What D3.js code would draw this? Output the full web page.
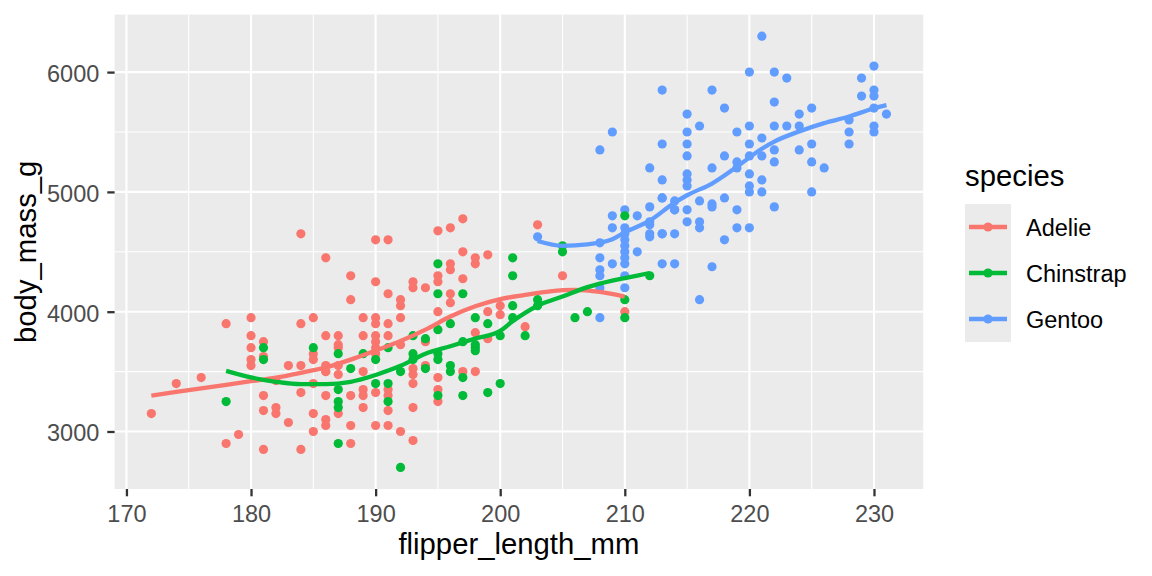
<!DOCTYPE html>
<html>
  <head>
    <meta charset="utf-8">
    <title>Penguins</title>
    <script src="https://d3js.org/d3.v7.min.js"></script>
    <style>
    body { margin: 0; background: #fff; }
    text { font-family: "Liberation Sans", Arial, sans-serif; }
    .grid-major { stroke: #fff; stroke-width: 2.1px; }
    .grid-minor { stroke: #fff; stroke-width: 1.1px; }
    </style>
  </head>
  <body>
    <script>
      // ====================================
      // data: [flipper_length_mm, body_mass_g]
      // ====================================
      const adelie = [
        [184,4650],[186,4450],[178,3900],[180,3950],[184,3900],[185,3950],[180,3800],[181,3750],
        [180,3700],[180,3600],[180,3550],[181,3625],[185,3650],[185,3600],[186,3800],[187,3800],
        [187,3700],[183,3550],[184,3550],[186,3550],[187,3550],[186,3500],[176,3450],[174,3400],
        [172,3150],[181,3300],[181,3175],[182,3200],[182,3150],[183,3075],[184,3325],[185,3400],
        [185,3150],[185,3000],[186,3300],[186,3100],[186,3050],[187,3150],[179,2975],[178,2900],
        [181,2850],[184,2850],[182,3425],
        [190,4600],[191,4600],[195,4675],[196,4700],[197,4775],[197,4500],[198,4450],[198,4400],
        [199,4475],[196,4400],[196,4350],[195,4300],[195,4250],[197,4275],[193,4250],[193,4200],
        [194,4200],[188,4300],[190,4250],[188,4100],[191,4150],[192,4100],[192,4050],[196,4150],
        [196,4075],[195,4000],[192,3950],[189,3950],[190,3950],[190,3900],[191,3900],[189,3800],
        [190,3800],[191,3800],[190,3750],[200,4050],[199,4000],[198,3825],[199,3775],
        [187,3725],[190,3700],[190,3650],[192,3725],[197,3500],[198,3500],[186,3500],[187,3475],
        [189,3500],[193,3525],[193,3475],[193,3400],[194,3550],[195,3450],[188,3300],[189,3350],
        [189,3300],[189,3200],[190,3325],[191,3350],[191,3300],[191,3175],[193,3200],[195,3350],
        [195,3250],[188,3050],[190,3050],[191,3050],[192,3000],[193,2925],[188,2900],[194,3750],
        [203,4725],[205,4300],[210,4000],[202,3875],[200,3975]
      ];

      const gentoo = [
        [203,4625],[210,4850],[209,4800],[209,4700],[210,4700],[210,4650],[211,4800],[212,4875],
        [212,4725],[212,4650],[213,4950],[213,4650],[214,4850],[214,4650],[208,4575],[208,4450],
        [208,4350],[208,4300],[209,4400],[210,4500],[210,4450],[210,4400],[211,4500],[210,4300],
        [210,4200],[213,4400],[214,4400],[208,4200],[208,3950],
        [213,5850],[217,5850],[218,5700],[215,5650],[216,5550],[209,5500],[215,5500],[219,5500],
        [208,5350],[213,5400],[215,5400],[215,5300],[218,5300],[212,5200],[217,5200],[219,5250],
        [219,5200],
        [221,6300],[220,6000],[222,6000],[223,5950],[230,6050],[229,5950],[229,5800],[230,5850],
        [230,5800],[222,5750],[225,5700],[224,5650],[230,5700],[231,5650],[228,5600],[228,5500],
        [228,5400],[230,5550],[230,5500],[220,5550],[222,5550],[223,5550],[224,5550],[221,5450],
        [220,5400],[224,5350],[225,5400],[222,5350],[220,5300],[221,5300],[222,5250],[225,5250],
        [226,5200],
        [213,5100],[215,5150],[215,5100],[215,5050],[220,5150],[221,5100],[220,5050],[220,5000],
        [221,5000],[213,4950],[214,4925],[214,4850],[215,4850],[215,4750],[216,4925],[216,4750],
        [216,4700],[217,4900],[217,4875],[218,4950],[219,4850],[222,4875],[212,4750],[212,4625],
        [213,4650],[219,4700],[220,4700],[218,4600],[210,4600],[210,4550],[217,4375],[216,4100],
        [225,5000]
      ];

      const chinstrap = [
        [181,3700],[181,3600],[185,3700],[178,3250],[187,3650],[187,3350],[187,3250],[187,3200],
        [187,2900],
        [201,4450],[201,4300],[195,4400],[195,4150],[197,4150],[193,3800],[194,3775],[195,3850],
        [196,3900],[198,3950],[199,3900],[200,3800],[201,4050],[197,3750],[198,3700],
        [189,3650],[191,3700],[190,3600],[193,3650],[193,3600],[195,3650],[195,3600],[196,3550],
        [196,3500],[198,3725],[198,3675],[197,3450],[188,3525],[192,3500],[190,3400],[191,3400],
        [194,3525],[195,3300],[197,3300],[199,3325],[200,3400],[192,2700],[191,3250],
        [205,4550],[205,4500],[210,4800],[212,4300],[210,4100],[210,3950],[207,4000],[206,3950],
        [203,4100],[203,4050],[201,3950],[202,3800]
      ];

      // smoothed trend lines
      const adelieSmooth = [
        [172,3300],[174,3330],[176,3360],[178,3390],[180,3420],[182,3450],[184,3490],[186,3535],
        [188,3600],[190,3676],[192,3755],[194,3850],[196,3960],[198,4045],[200,4105],[202,4140],
        [204,4170],[206,4182],[208,4165],[210,4126]
      ];
      const chinstrapSmooth = [
        [178,3506],[180,3451],[182,3415],[184,3395],[186,3395],[188,3415],[190,3472],[192,3548],
        [194,3650],[196,3712],[198,3776],[200,3840],[201,3920],[202,3990],[203,4050],[205,4126],
        [207,4205],[209,4260],[210,4281],[212,4323]
      ];
      const gentooSmooth = [
        [203,4590],[205,4550],[207,4562],[209,4605],[210,4662],[212,4760],[214,4910],[215,4972],
        [217,5070],[219,5210],[221,5360],[222,5420],[224,5505],[226,5574],[228,5629],[230,5698],
        [231,5725]
      ];

      const xTicks = [170, 180, 190, 200, 210, 220, 230];
      const xMinor = [175, 185, 195, 205, 215, 225];
      const yTicks = [3000, 4000, 5000, 6000];
      const yMinor = [3500, 4500, 5500];
      const speciesNames = ["Adelie", "Chinstrap", "Gentoo"];
      const colors = ["#F8766D", "#00BA38", "#619CFF"];

      // ====================================
      // layout
      // ====================================
      const width = 1152;
      const height = 576;
      const panel = { left: 114.6, right: 923.2, top: 14.6, bottom: 489 };
      const tickFont = 23.5;   // 8.8pt at this resolution
      const titleFont = 29.3;  // 11pt

      const svg = d3.select("body")
        .append("svg")
          .attr("width", width)
          .attr("height", height);

      const xScale = d3.scaleLinear()
          .domain([169.05, 233.95])
          .range([panel.left, panel.right]);

      const yScale = d3.scaleLinear()
          .domain([2520, 6480])
          .range([panel.bottom, panel.top]);

      // panel background
      svg.append("rect")
          .attr("x", panel.left)
          .attr("y", panel.top)
          .attr("width", panel.right - panel.left)
          .attr("height", panel.bottom - panel.top)
          .attr("fill", "#EBEBEB");

      // grid lines, minor first
      const grid = svg.append("g");
      grid.selectAll("line.vx-minor").data(xMinor).enter().append("line")
          .attr("class", "grid-minor")
          .attr("x1", d => xScale(d)).attr("x2", d => xScale(d))
          .attr("y1", panel.top).attr("y2", panel.bottom);
      grid.selectAll("line.hy-minor").data(yMinor).enter().append("line")
          .attr("class", "grid-minor")
          .attr("x1", panel.left).attr("x2", panel.right)
          .attr("y1", d => yScale(d)).attr("y2", d => yScale(d));
      grid.selectAll("line.vx-major").data(xTicks).enter().append("line")
          .attr("class", "grid-major")
          .attr("x1", d => xScale(d)).attr("x2", d => xScale(d))
          .attr("y1", panel.top).attr("y2", panel.bottom);
      grid.selectAll("line.hy-major").data(yTicks).enter().append("line")
          .attr("class", "grid-major")
          .attr("x1", panel.left).attr("x2", panel.right)
          .attr("y1", d => yScale(d)).attr("y2", d => yScale(d));

      // axes: d3 axes, restyled to look like ggplot
      const xAxis = d3.axisBottom(xScale)
          .tickValues(xTicks)
          .tickSize(7.3)
          .tickPadding(9);
      const gx = svg.append("g")
          .attr("transform", "translate(0," + panel.bottom + ")")
          .call(xAxis);

      const yAxis = d3.axisLeft(yScale)
          .tickValues(yTicks)
          .tickSize(7.3)
          .tickPadding(8)
          .tickFormat(d3.format("d"));
      const gy = svg.append("g")
          .attr("transform", "translate(" + panel.left + ",0)")
          .call(yAxis);

      [gx, gy].forEach(g => {
        g.select(".domain").remove();
        g.selectAll(".tick line").attr("stroke", "#333333").attr("stroke-width", 2.3);
        g.selectAll(".tick text")
          .style("font-family", "'Liberation Sans', Arial, sans-serif")
          .style("font-size", tickFont + "px")
          .attr("fill", "#4D4D4D");
      });
      gx.selectAll(".tick text").attr("dy", "0.71em");
      gy.selectAll(".tick text").attr("dy", "0.4em");

      // points: data order is Adelie, Gentoo, Chinstrap
      const pointGroups = [
        { data: adelie, color: colors[0] },
        { data: gentoo, color: colors[2] },
        { data: chinstrap, color: colors[1] }
      ];
      const pts = svg.append("g");
      pointGroups.forEach(grp => {
        pts.append("g").selectAll("circle")
          .data(grp.data)
          .enter().append("circle")
            .attr("cx", d => xScale(d[0]))
            .attr("cy", d => yScale(d[1]))
            .attr("r", 4.6)
            .attr("fill", grp.color);
      });

      // smooth lines
      const line = d3.line()
          .x(d => xScale(d[0]))
          .y(d => yScale(d[1]))
          .curve(d3.curveMonotoneX);

      [adelieSmooth, chinstrapSmooth, gentooSmooth].forEach((s, i) => {
        svg.append("path")
          .datum(s)
          .attr("d", line)
          .attr("fill", "none")
          .attr("stroke", colors[i])
          .attr("stroke-width", 4.3)
          .attr("stroke-linejoin", "round");
      });

      // axis titles
      svg.append("text")
          .attr("x", (panel.left + panel.right) / 2)
          .attr("y", 554)
          .attr("text-anchor", "middle")
          .style("font-size", titleFont + "px")
          .text("flipper_length_mm");

      svg.append("text")
          .attr("transform", "translate(35.5," + ((panel.top + panel.bottom) / 2) + ") rotate(-90)")
          .attr("text-anchor", "middle")
          .style("font-size", titleFont + "px")
          .text("body_mass_g");

      // ==================
      // legend
      // ==================
      const legend = svg.append("g").attr("transform", "translate(965,0)");
      legend.append("text")
          .attr("x", 0)
          .attr("y", 186)
          .style("font-size", titleFont + "px")
          .text("species");

      const keyTop = 204;
      const keyH = 46;
      speciesNames.forEach((name, i) => {
        const cy = keyTop + keyH * i + keyH / 2;
        legend.append("rect")
          .attr("x", 0).attr("y", keyTop + keyH * i)
          .attr("width", 46).attr("height", keyH)
          .attr("fill", "#EBEBEB");
        legend.append("line")
          .attr("x1", 4).attr("x2", 42)
          .attr("y1", cy).attr("y2", cy)
          .attr("stroke", colors[i])
          .attr("stroke-width", 4.3);
        legend.append("circle")
          .attr("cx", 23).attr("cy", cy).attr("r", 4.6)
          .attr("fill", colors[i]);
        legend.append("text")
          .attr("x", 61)
          .attr("y", cy)
          .attr("dy", "0.37em")
          .style("font-size", tickFont + "px")
          .text(name);
      });
    </script>
  </body>
</html>
